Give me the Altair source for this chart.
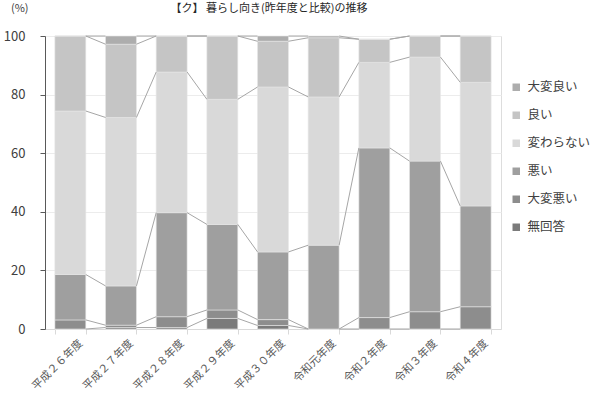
import altair as alt
import pandas as pd

# 年度 (x categories)
years = ["平成２６年度", "平成２７年度", "平成２８年度", "平成２９年度", "平成３０年度",
         "令和元年度", "令和２年度", "令和３年度", "令和４年度"]

# Percentages per answer, bottom of the stack first
no_answer = [0.0, 0.5, 0.5, 3.6, 1.2, 0.0, 0.0, 0.0, 0.0]
very_bad = [3.1, 0.8, 3.7, 2.9, 2.0, 0.0, 3.9, 5.9, 7.6]
bad = [15.5, 13.4, 35.5, 29.2, 23.1, 28.6, 57.9, 51.4, 34.4]
same = [55.8, 57.5, 48.0, 42.7, 56.3, 50.6, 29.2, 35.5, 42.2]
good = [25.6, 25.0, 12.3, 21.6, 15.6, 20.2, 7.9, 7.2, 15.8]
very_good = [0.0, 2.8, 0.0, 0.0, 1.8, 0.6, 0.0, 0.0, 0.0]

stack_order = ["無回答", "大変悪い", "悪い", "変わらない", "良い", "大変良い"]
legend_order = ["大変良い", "良い", "変わらない", "悪い", "大変悪い", "無回答"]
series = {
    "無回答": no_answer,
    "大変悪い": very_bad,
    "悪い": bad,
    "変わらない": same,
    "良い": good,
    "大変良い": very_good,
}
colors = {
    "大変良い": "#adadad",
    "良い": "#c5c5c5",
    "変わらない": "#d9d9d9",
    "悪い": "#9f9f9f",
    "大変悪い": "#8d8d8d",
    "無回答": "#7b7b7b",
}

# Stacked segments (y0..y1) for every year
rows = []
for i, yr in enumerate(years):
    base = 0.0
    for s in stack_order:
        v = series[s][i]
        rows.append({"year": yr, "series": s, "value": v, "y0": base, "y1": base + v})
        base += v
bars = pd.DataFrame(rows)

# Series lines joining the top of each answer between neighbouring bars
links = []
for s in stack_order:
    tops = bars[bars.series == s].set_index("year")["y1"]
    for a, b in zip(years[:-1], years[1:]):
        links.append({"series": s, "year": a, "next": b, "top": tops[a], "next_top": tops[b]})
links = pd.DataFrame(links)

FONT = "Noto Sans CJK JP"
W, H = 456, 293

xscale = alt.Scale(domain=years, paddingInner=0.39, paddingOuter=0.195)
yscale = alt.Scale(domain=[0, 100], nice=False)

bar_layer = alt.Chart(bars).mark_bar(stroke="#e6e6e6", strokeWidth=0.6).encode(
    x=alt.X("year:N", scale=xscale, sort=years, title=None,
            axis=alt.Axis(labelAngle=-45, labelFontSize=11, labelColor="#595959",
                          labelFont=FONT, tickBand="extent", tickSize=5,
                          tickColor="#d9d9d9", domainColor="#d9d9d9",
                          labelPadding=3, labelOffset=6, grid=False)),
    y=alt.Y("y0:Q", scale=yscale, title=None,
            axis=alt.Axis(values=[0, 20, 40, 60, 80, 100], tickSize=5,
                          tickColor="#595959", domainColor="#595959",
                          labelFontSize=13, labelColor="#404040", labelFont=FONT,
                          labelPadding=15, gridColor="#ececec", gridWidth=1)),
    y2="y1:Q",
    color=alt.Color("series:N", sort=legend_order,
                    scale=alt.Scale(domain=legend_order,
                                    range=[colors[s] for s in legend_order]),
                    legend=alt.Legend(title=None, orient="none", legendX=465, legendY=45,
                                      symbolType="square", symbolSize=56,
                                      symbolStrokeWidth=0, labelFontSize=12.5,
                                      labelColor="#404040", labelFont=FONT,
                                      rowPadding=15, padding=0, labelOffset=5)),
)

line_layer = alt.Chart(links).mark_rule(color="#a6a6a6", strokeWidth=1).encode(
    x=alt.X("year:N", scale=xscale, sort=years, bandPosition=1),
    x2=alt.X2("next:N", bandPosition=0),
    y=alt.Y("top:Q", scale=yscale),
    y2="next_top:Q",
)

title_df = pd.DataFrame({"t": ["【ク】 暮らし向き(昨年度と比較)の推移"]})
title_layer = alt.Chart(title_df).mark_text(
    font=FONT, fontSize=11, color="#262626", align="center", baseline="top"
).encode(text="t:N", x=alt.value(224), y=alt.value(-33))

unit_df = pd.DataFrame({"t": ["(%)"]})
unit_layer = alt.Chart(unit_df).mark_text(
    font=FONT, fontSize=11, color="#404040", align="left", baseline="top"
).encode(text="t:N", x=alt.value(-34), y=alt.value(-33))

chart = alt.layer(bar_layer, line_layer, title_layer, unit_layer).properties(
    width=W, height=H,
    autosize=alt.AutoSizeParams(type="none"),
    padding={"left": 45, "top": 36, "right": 91, "bottom": 67},
).configure_view(stroke=None).configure(background="white")

chart.save("out.html", embed_options={"renderer": "svg", "actions": False})
